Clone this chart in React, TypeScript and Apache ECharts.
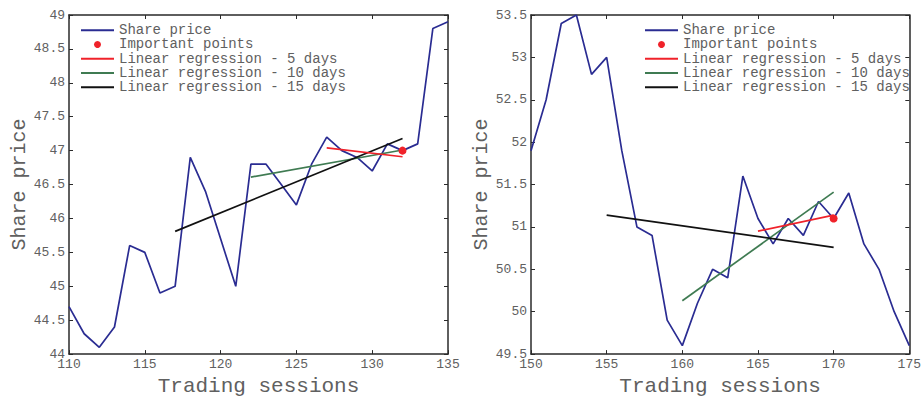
import React, { useEffect, useRef } from "react";
import * as echarts from "echarts";

// Left panel data
const leftSessions = [110, 111, 112, 113, 114, 115, 116, 117, 118, 119, 120, 121, 122, 123, 124, 125, 126, 127, 128, 129, 130, 131, 132, 133, 134, 135];
const leftPrices = [44.7, 44.3, 44.1, 44.4, 45.6, 45.5, 44.9, 45.0, 46.9, 46.4, 45.7, 45.0, 46.8, 46.8, 46.5, 46.2, 46.8, 47.2, 47.0, 46.9, 46.7, 47.1, 47.0, 47.1, 48.8, 48.9];
const leftImportantX = [132];
const leftImportantY = [47.0];
const leftReg5X = [127, 132];
const leftReg5Y = [47.04, 46.91];
const leftReg10X = [122, 132];
const leftReg10Y = [46.61, 47.01];
const leftReg15X = [117, 132];
const leftReg15Y = [45.81, 47.18];

// Right panel data
const rightSessions = [150, 151, 152, 153, 154, 155, 156, 157, 158, 159, 160, 161, 162, 163, 164, 165, 166, 167, 168, 169, 170, 171, 172, 173, 174, 175];
const rightPrices = [51.9, 52.5, 53.4, 53.5, 52.8, 53.0, 51.9, 51.0, 50.9, 49.9, 49.6, 50.1, 50.5, 50.4, 51.6, 51.1, 50.8, 51.1, 50.9, 51.3, 51.1, 51.4, 50.8, 50.5, 50.0, 49.6];
const rightImportantX = [170];
const rightImportantY = [51.1];
const rightReg5X = [165, 170];
const rightReg5Y = [50.95, 51.14];
const rightReg10X = [160, 170];
const rightReg10Y = [50.13, 51.41];
const rightReg15X = [155, 170];
const rightReg15Y = [51.14, 50.76];

const legendNames = ["Share price", "Important points", "Linear regression - 5 days", "Linear regression - 10 days", "Linear regression - 15 days"];

const FONT = "Liberation Mono";
const TEXT = "#606060";
const AXIS = "#2a2a2a";
const C_PRICE = "#2a2c92";
const C_RED = "#f0222a";
const C_GREEN = "#3f7b52";
const C_BLACK = "#111111";

const zip = (xs: number[], ys: number[]) => xs.map((x, i) => [x, ys[i]]);

function axisPair(gridIndex: number, min: number, max: number, interval: number, isX: boolean, withName: string) {
  const common = {
    type: "value",
    gridIndex,
    min,
    max,
    interval,
    splitLine: { show: false },
    axisLine: { show: true, onZero: false, lineStyle: { color: AXIS, width: 1.5 } },
    axisTick: { show: true, inside: true, length: 4, lineStyle: { color: AXIS, width: 1 } },
  };
  const main: any = {
    ...common,
    position: isX ? "bottom" : "left",
    axisLabel: { show: true, color: TEXT, fontFamily: FONT, fontSize: 13, margin: 4, showMinLabel: true, showMaxLabel: true },
    name: withName,
    nameLocation: "middle",
    nameGap: isX ? 18 : 40,
    nameTextStyle: { color: TEXT, fontFamily: FONT, fontSize: isX ? 21 : 20 },
  };
  const mirror: any = {
    ...common,
    position: isX ? "top" : "right",
    axisLabel: { show: false },
  };
  return [main, mirror];
}

function panelSeries(
  xAxisIndex: number,
  yAxisIndex: number,
  sx: number[], sy: number[],
  ix: number[], iy: number[],
  r5x: number[], r5y: number[],
  r10x: number[], r10y: number[],
  r15x: number[], r15y: number[]
) {
  const line = (name: string, data: number[][], color: string, width: number, z: number) => ({
    name,
    type: "line",
    xAxisIndex,
    yAxisIndex,
    data,
    symbol: "none",
    showSymbol: false,
    lineStyle: { color, width },
    itemStyle: { color },
    z,
  });
  return [
    line(legendNames[0], zip(sx, sy), C_PRICE, 1.7, 2),
    line(legendNames[2], zip(r5x, r5y), C_RED, 1.7, 4),
    line(legendNames[3], zip(r10x, r10y), C_GREEN, 1.7, 3),
    line(legendNames[4], zip(r15x, r15y), C_BLACK, 1.7, 3),
    {
      name: legendNames[1],
      type: "scatter",
      xAxisIndex,
      yAxisIndex,
      data: zip(ix, iy),
      symbol: "circle",
      symbolSize: 8,
      itemStyle: { color: C_RED, opacity: 1 },
      z: 5,
    },
  ];
}

function legend(left: number) {
  const hidden = { opacity: 0 };
  return {
    left,
    top: 23,
    padding: 0,
    orient: "vertical",
    itemWidth: 33,
    itemHeight: 7,
    itemGap: 0,
    itemTextGap: 5,
    selectedMode: false,
    lineStyle: { width: 2 },
    textStyle: { color: TEXT, fontFamily: FONT, fontSize: 14, lineHeight: 14.3 },
    data: [
      { name: legendNames[0], itemStyle: hidden },
      { name: legendNames[1], icon: "circle", itemStyle: { color: C_RED, opacity: 1 } },
      { name: legendNames[2], itemStyle: hidden },
      { name: legendNames[3], itemStyle: hidden },
      { name: legendNames[4], itemStyle: hidden },
    ],
  };
}

export default function App() {
  const ref = useRef<HTMLDivElement>(null);
  useEffect(() => {
    document.body.style.margin = "0";
    if (!ref.current) return;
    const chart = echarts.init(ref.current, null, { renderer: "svg" });
    const [lx, lxm] = axisPair(0, 110, 135, 5, true, "Trading sessions");
    const [rx, rxm] = axisPair(1, 150, 175, 5, true, "Trading sessions");
    const [ly, lym] = axisPair(0, 44, 49, 0.5, false, "Share price");
    const [ry, rym] = axisPair(1, 49.5, 53.5, 0.5, false, "Share price");
    chart.setOption({
      animation: false,
      backgroundColor: "#ffffff",
      grid: [
        { left: 69, top: 15, width: 379, height: 349 },
        { left: 531, top: 15, width: 380, height: 349 },
      ],
      xAxis: [lx, lxm, rx, rxm],
      yAxis: [ly, lym, ry, rym],
      legend: [legend(80), legend(644)],
      series: [
        ...panelSeries(0, 0, leftSessions, leftPrices, leftImportantX, leftImportantY, leftReg5X, leftReg5Y, leftReg10X, leftReg10Y, leftReg15X, leftReg15Y),
        ...panelSeries(2, 2, rightSessions, rightPrices, rightImportantX, rightImportantY, rightReg5X, rightReg5Y, rightReg10X, rightReg10Y, rightReg15X, rightReg15Y),
      ],
    });
    return () => chart.dispose();
  }, []);
  return <div ref={ref} style={{ width: 924, height: 402 }} />;
}
